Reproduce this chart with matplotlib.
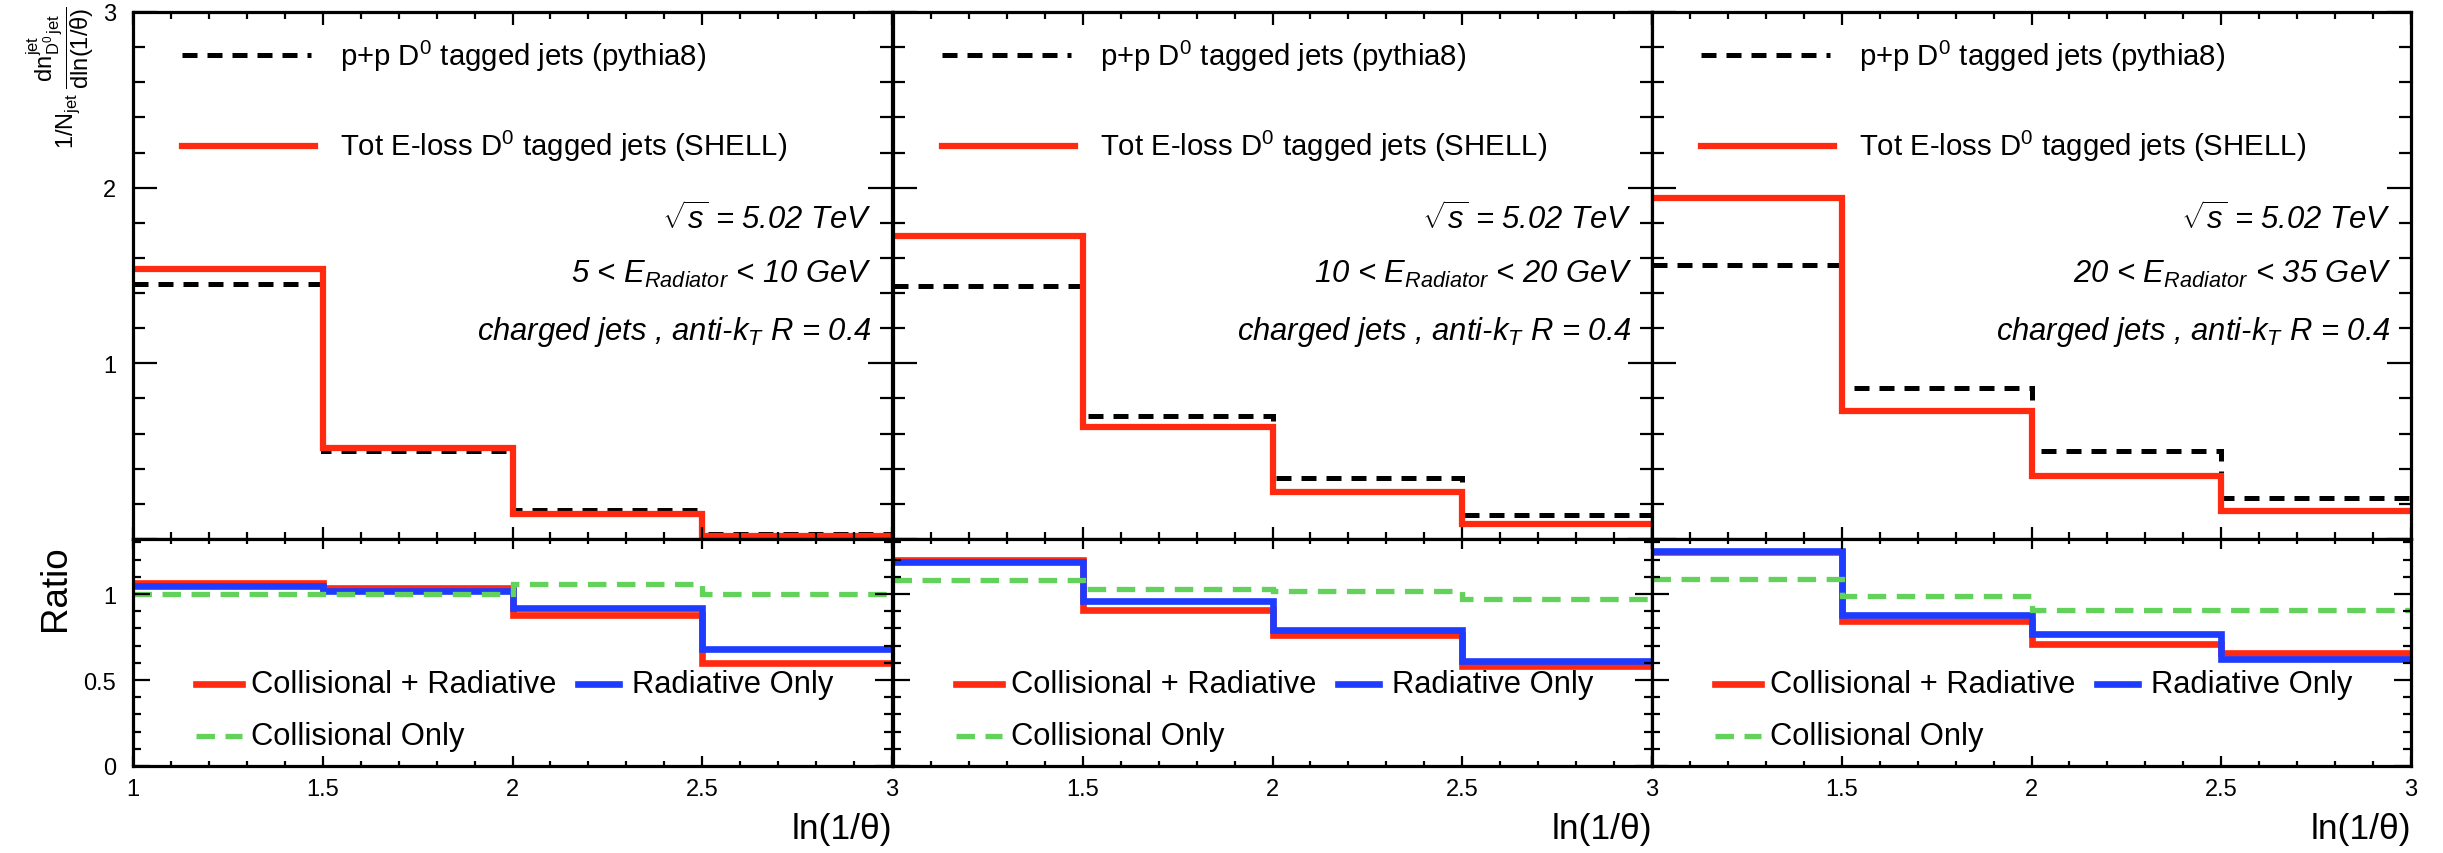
import matplotlib
matplotlib.use('Agg')
import matplotlib.pyplot as plt
from matplotlib.ticker import MultipleLocator, FuncFormatter
from matplotlib.lines import Line2D

plt.rcParams['font.family'] = ['Liberation Sans', 'DejaVu Sans']
plt.rcParams['mathtext.fontset'] = 'custom'
plt.rcParams['mathtext.rm'] = 'Liberation Sans'
plt.rcParams['mathtext.it'] = 'Liberation Sans:italic'
plt.rcParams['mathtext.bf'] = 'Liberation Sans:bold'

# ---------------- data ----------------
edges = [1.0, 1.5, 2.0, 2.5, 3.0]
energy_labels = ["5 < $E_{Radiator}$ < 10 GeV",
                 "10 < $E_{Radiator}$ < 20 GeV",
                 "20 < $E_{Radiator}$ < 35 GeV"]

pp_5_10 = [1.45, 0.50, 0.165, 0.03]
shell_5_10 = [1.535, 0.52, 0.145, 0.015]
pp_10_20 = [1.44, 0.70, 0.35, 0.135]
shell_10_20 = [1.725, 0.635, 0.265, 0.085]
pp_20_35 = [1.56, 0.86, 0.50, 0.235]
shell_20_35 = [1.94, 0.727, 0.358, 0.16]

colrad_5_10 = [1.065, 1.035, 0.88, 0.60]
rad_5_10 = [1.045, 1.015, 0.92, 0.68]
col_5_10 = [1.0, 1.0, 1.06, 1.0]
colrad_10_20 = [1.20, 0.905, 0.76, 0.58]
rad_10_20 = [1.185, 0.96, 0.79, 0.61]
col_10_20 = [1.08, 1.03, 1.02, 0.97]
colrad_20_35 = [1.245, 0.845, 0.71, 0.66]
rad_20_35 = [1.25, 0.88, 0.77, 0.62]
col_20_35 = [1.085, 0.99, 0.91, 0.905]

pp_all = [pp_5_10, pp_10_20, pp_20_35]
shell_all = [shell_5_10, shell_10_20, shell_20_35]
colrad_all = [colrad_5_10, colrad_10_20, colrad_20_35]
rad_all = [rad_5_10, rad_10_20, rad_20_35]
col_all = [col_5_10, col_10_20, col_20_35]

# ---------------- style ----------------
RED = '#ff2a10'
BLUE = '#1e3cff'
GREEN = '#62d25a'
W, H = 2443, 854
fig = plt.figure(figsize=(W / 100, H / 100), dpi=100)

def fr(x0, y_top, w, h):
    return [x0 / W, 1 - (y_top + h) / H, w / W, h / H]

lefts = [133, 893, 1652]
PW = 759
TOP, MID, BOT = 13, 540, 767
TICKFS = 17
LEGFS = 21.2
INFOFS = 22.3
RLEGFS = 22.2

def fmt_hide(vals):
    def f(v, p):
        for h in vals:
            if abs(v - h) < 1e-9:
                return ''
        return f'{v:g}'
    return FuncFormatter(f)

for i in range(3):
    axu = fig.add_axes(fr(lefts[i], TOP, PW, MID - TOP))
    axr = fig.add_axes(fr(lefts[i], MID, PW, BOT - MID))
    for ax in (axu, axr):
        for s in ax.spines.values():
            s.set_linewidth(2.3)
        ax.set_xlim(1, 3)
        ax.xaxis.set_major_locator(MultipleLocator(0.5))
        ax.xaxis.set_minor_locator(MultipleLocator(0.1))
        ax.tick_params(which='both', direction='in', top=True, right=True,
                       width=1.6, labelsize=TICKFS, colors='black')

    # upper panel
    axu.set_ylim(0, 3)
    axu.yaxis.set_major_locator(MultipleLocator(1))
    axu.yaxis.set_minor_locator(MultipleLocator(0.2))
    axu.yaxis.set_major_formatter(fmt_hide([0]))
    axu.xaxis.set_tick_params(which='major', length=9)
    axu.xaxis.set_tick_params(which='minor', length=5)
    axu.yaxis.set_tick_params(which='major', length=17, pad=12)
    axu.yaxis.set_tick_params(which='minor', length=8.5)
    axu.tick_params(labelbottom=False, labelleft=(i == 0))

    axu.stairs(pp_all[i], edges, baseline=None, color='black', lw=3.6,
               linestyle=(0, (3, 2)))
    axu.stairs(shell_all[i], edges, baseline=None, color=RED, lw=4.5)

    # upper legend
    axu.add_line(Line2D([0.065, 0.235], [0.918, 0.918], transform=axu.transAxes,
                        color='black', lw=3.6, linestyle=(0, (3, 2))))
    axu.text(0.273, 0.918, "p+p $\\mathrm{D^{0}}$ tagged jets (pythia8)",
             transform=axu.transAxes, fontsize=LEGFS, va='center', ha='left')
    axu.add_line(Line2D([0.065, 0.24], [0.746, 0.746], transform=axu.transAxes,
                        color=RED, lw=4.5))
    axu.text(0.273, 0.746, "Tot E-loss $\\mathrm{D^{0}}$ tagged jets (SHELL)",
             transform=axu.transAxes, fontsize=LEGFS, va='center', ha='left')

    # info text
    axu.text(0.974, 0.607, "$\\sqrt{s}$ = 5.02 TeV", transform=axu.transAxes,
             fontsize=INFOFS, style='italic', ha='right', va='center')
    axu.text(0.974, 0.503, energy_labels[i], transform=axu.transAxes,
             fontsize=INFOFS, style='italic', ha='right', va='center')
    axu.text(0.974, 0.395, "charged jets , anti-$k_{T}$ R = 0.4",
             transform=axu.transAxes, fontsize=INFOFS, style='italic',
             ha='right', va='center')

    # ratio panel
    axr.set_ylim(0, 1.32)
    axr.yaxis.set_major_locator(MultipleLocator(0.5))
    axr.yaxis.set_minor_locator(MultipleLocator(0.1))
    axr.yaxis.set_major_formatter(fmt_hide([]))
    axr.xaxis.set_major_formatter(fmt_hide([] if i == 0 else [1.0]))
    axr.xaxis.set_tick_params(which='major', length=7, pad=9)
    axr.xaxis.set_tick_params(which='minor', length=3.5)
    axr.yaxis.set_tick_params(which='major', length=12, pad=12)
    axr.yaxis.set_tick_params(which='minor', length=6)
    axr.tick_params(labelleft=(i == 0))

    axr.stairs(colrad_all[i], edges, baseline=None, color=RED, lw=4.8)
    axr.stairs(rad_all[i], edges, baseline=None, color=BLUE, lw=4.8)
    axr.stairs(col_all[i], edges, baseline=None, color=GREEN, lw=3.8,
               linestyle=(0, (3.5, 2)))

    axr.add_line(Line2D([0.083, 0.143], [0.361, 0.361], transform=axr.transAxes,
                        color=RED, lw=4.8))
    axr.text(0.155, 0.361, "Collisional + Radiative", transform=axr.transAxes,
             fontsize=RLEGFS, va='center', ha='left')
    axr.add_line(Line2D([0.586, 0.640], [0.361, 0.361], transform=axr.transAxes,
                        color=BLUE, lw=4.8))
    axr.text(0.657, 0.361, "Radiative Only", transform=axr.transAxes,
             fontsize=RLEGFS, va='center', ha='left')
    axr.add_line(Line2D([0.083, 0.143], [0.132, 0.132], transform=axr.transAxes,
                        color=GREEN, lw=3.8, linestyle=(0, (3.5, 2))))
    axr.text(0.155, 0.132, "Collisional Only", transform=axr.transAxes,
             fontsize=RLEGFS, va='center', ha='left')

    # x title
    fig.text((lefts[i] + PW) / W, 1 - 830 / H, "ln(1/θ)", fontsize=25.5,
             ha='right', va='center')

fig.text(60 / W, 1 - 6 / H,
         "$\\mathrm{1/N_{jet}}\\;\\dfrac{\\mathrm{dn^{jet}_{D^{0}\\,jet}}}{\\mathrm{dln(1/θ)}}$",
         rotation=90, fontsize=17, ha='center', va='top')
fig.text(55 / W, 1 - 588 / H, "Ratio", rotation=90, fontsize=26.5,
         ha='center', va='center')

fig.savefig('out.png', dpi=100)
